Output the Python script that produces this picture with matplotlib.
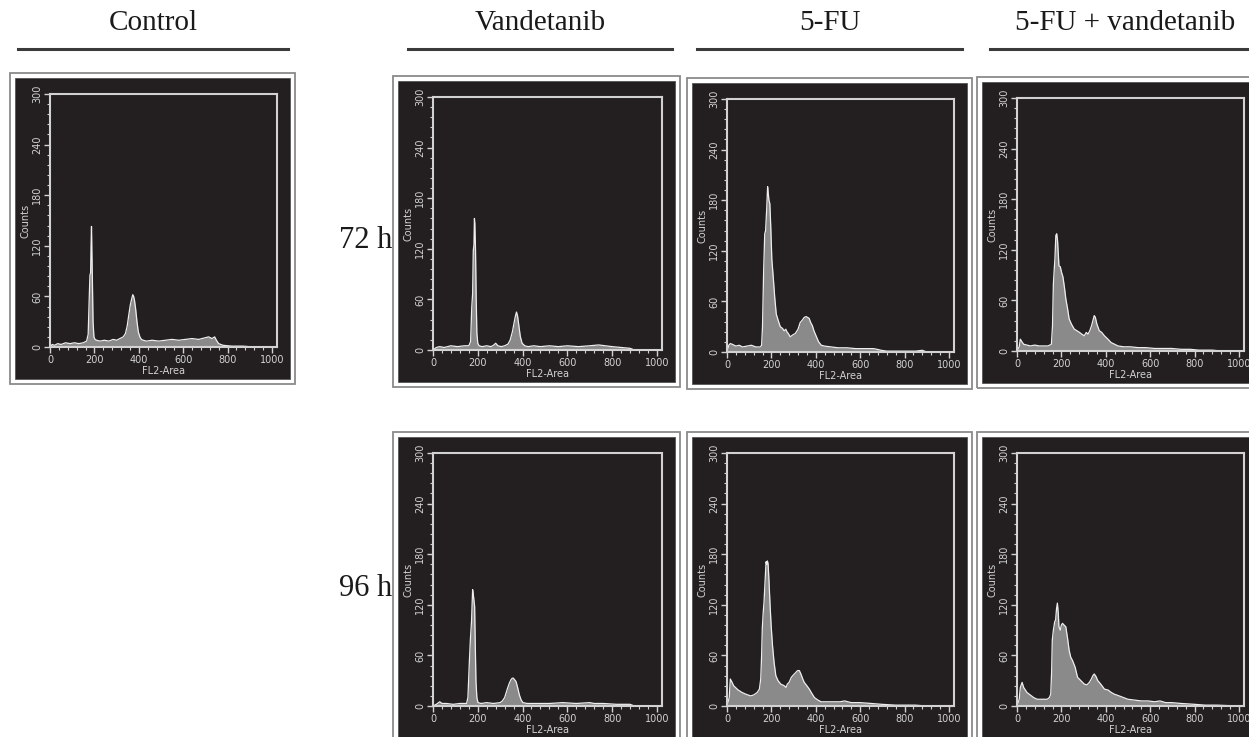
import matplotlib
matplotlib.use('Agg')
import matplotlib.pyplot as plt
from matplotlib.patches import Rectangle
from matplotlib.lines import Line2D
from matplotlib.ticker import MultipleLocator

W, H = 1249, 737

#==============================================================================
# DATA - FL2-Area channel vs counts
#==============================================================================

control_x = [0, 10, 20, 35, 50, 70, 90, 110, 130, 150, 165, 172, 177, 180, 183, 185, 187, 189, 191, 194,
             198, 203, 210, 225, 245, 265, 285, 300, 315, 330, 340, 348, 355, 362, 368, 373, 377, 381, 386, 392,
             398, 405, 412, 420, 435, 460, 490, 520, 550, 580, 610, 640, 670, 700, 715, 730, 742, 750, 760, 780,
             820, 870, 920, 1000]
control_y = [0, 3, 2, 4, 3, 5, 4, 5, 4, 5, 7, 15, 60, 85, 88, 120, 143, 110, 80, 30,
             12, 9, 8, 7, 8, 7, 9, 8, 10, 12, 16, 25, 38, 50, 57, 62, 60, 55, 45, 30,
             18, 12, 9, 8, 7, 8, 7, 8, 9, 8, 9, 10, 9, 11, 12, 10, 12, 8, 4, 2,
             1, 1, 0, 0]

vand72_x = [0, 15, 30, 50, 80, 110, 140, 160, 168, 173, 177, 180, 183, 185, 187, 190, 193, 196, 200, 206,
            220, 240, 260, 272, 280, 290, 305, 320, 335, 345, 355, 362, 368, 373, 378, 383, 390, 398, 410, 425,
            450, 480, 520, 560, 600, 650, 700, 740, 770, 800, 840, 880, 900, 1000]
vand72_y = [0, 3, 4, 3, 5, 4, 5, 5, 10, 50, 67, 118, 125, 156, 150, 118, 60, 20, 8, 5,
            4, 5, 4, 6, 8, 5, 4, 5, 7, 12, 22, 32, 40, 45, 40, 30, 16, 8, 5, 4,
            5, 4, 5, 4, 5, 4, 5, 6, 5, 4, 3, 2, 0, 0]

fu72_x = [0, 8, 15, 25, 40, 55, 70, 90, 110, 130, 150, 156, 160, 165, 170, 174, 179, 183, 186, 189,
          193, 197, 202, 208, 215, 222, 230, 240, 250, 258, 265, 270, 276, 285, 295, 308, 320, 330, 340, 348,
          356, 363, 370, 377, 385, 392, 400, 413, 425, 440, 470, 500, 540, 580, 620, 660, 680, 695, 720, 760,
          800, 850, 880, 900, 1000]
fu72_y = [0, 8, 10, 9, 7, 8, 6, 7, 8, 6, 6, 8, 30, 95, 140, 144, 170, 196, 188, 180,
          176, 150, 110, 90, 65, 45, 38, 30, 28, 25, 27, 24, 22, 18, 20, 22, 27, 35, 38, 41,
          42, 41, 40, 35, 31, 25, 20, 12, 8, 7, 6, 5, 5, 4, 4, 4, 3, 2, 1, 1,
          1, 1, 2, 0, 0]

combo72_x = [0, 10, 15, 22, 30, 45, 60, 80, 100, 120, 140, 155, 160, 164, 167, 171, 175, 179, 183, 189,
             195, 201, 207, 214, 220, 228, 235, 245, 258, 270, 282, 292, 303, 312, 320, 328, 336, 342, 348, 353,
             360, 371, 382, 394, 410, 424, 440, 455, 480, 510, 545, 580, 620, 660, 697, 740, 780, 820, 848, 880,
             920, 1000]
combo72_y = [0, 5, 14, 11, 8, 7, 6, 7, 6, 6, 6, 8, 30, 80, 93, 110, 137, 139, 130, 101,
             100, 93, 88, 75, 62, 50, 38, 32, 26, 24, 22, 20, 18, 22, 20, 24, 30, 36, 42, 40,
             32, 24, 22, 18, 14, 10, 8, 6, 5, 5, 4, 4, 3, 3, 3, 2, 2, 1, 1, 1,
             0, 0]

vand96_x = [0, 15, 30, 40, 60, 90, 120, 150, 156, 162, 167, 172, 177, 181, 186, 189, 192, 196, 201, 215,
            240, 270, 300, 310, 320, 333, 341, 348, 354, 359, 365, 371, 378, 386, 394, 402, 420, 460, 520, 580,
            640, 700, 720, 760, 820, 880, 900, 1000]
vand96_y = [0, 2, 5, 3, 3, 2, 3, 3, 10, 50, 79, 100, 138, 130, 118, 70, 29, 10, 4, 3,
            4, 3, 4, 6, 10, 21, 27, 31, 33, 33, 31, 29, 22, 13, 7, 4, 3, 3, 3, 4,
            3, 4, 3, 3, 2, 2, 0, 0]

fu96_x = [0, 10, 15, 23, 30, 38, 50, 68, 85, 106, 120, 136, 146, 152, 156, 159, 163, 167, 172, 176,
          179, 182, 185, 189, 194, 199, 205, 212, 220, 230, 242, 250, 258, 266, 272, 280, 290, 300, 311, 318,
          326, 333, 340, 348, 360, 371, 382, 394, 410, 424, 450, 480, 510, 530, 560, 600, 650, 697, 760, 848,
          900, 1000]
fu96_y = [0, 10, 32, 28, 24, 22, 19, 16, 14, 12, 13, 16, 20, 32, 60, 92, 110, 124, 150, 171,
          168, 172, 169, 150, 120, 95, 72, 52, 36, 30, 26, 25, 24, 22, 26, 28, 34, 37, 40, 42,
          42, 38, 33, 28, 24, 20, 15, 10, 7, 5, 5, 5, 5, 6, 4, 4, 3, 2, 1, 1,
          0, 0]

combo96_x = [0, 10, 15, 23, 30, 45, 60, 75, 91, 110, 136, 146, 152, 156, 159, 164, 170, 174, 178, 182,
             186, 189, 195, 200, 205, 212, 220, 228, 235, 242, 250, 262, 273, 288, 303, 315, 326, 335, 342, 348,
             356, 364, 371, 383, 394, 410, 425, 439, 460, 480, 500, 530, 560, 591, 620, 644, 670, 697, 740, 800,
             848, 900, 1000]
combo96_y = [0, 8, 22, 28, 22, 16, 13, 10, 8, 8, 8, 10, 14, 40, 78, 90, 100, 102, 115, 122,
             110, 94, 90, 96, 98, 96, 94, 80, 66, 58, 54, 46, 34, 30, 26, 25, 28, 32, 36, 38,
             35, 30, 28, 24, 20, 19, 16, 14, 12, 10, 8, 7, 6, 6, 5, 6, 4, 4, 3, 2,
             1, 1, 0]

col_titles = ['Control', 'Vandetanib', '5-FU', '5-FU + vandetanib']
row_labels = ['72 h', '96 h']

#==============================================================================
# LAYOUT (pixel coords of the outer frame of each panel)
#==============================================================================

BG = '#231f20'
FG = '#d2d2d2'

# (outer_left, outer_right, outer_top, x, y)
panels = [
    (10,  295, 73,  control_x, control_y),
    (393, 680, 76,  vand72_x,  vand72_y),
    (687, 972, 78,  fu72_x,    fu72_y),
    (977, 1262, 77, combo72_x, combo72_y),
    (393, 680, 432, vand96_x,  vand96_y),
    (687, 972, 432, fu96_x,    fu96_y),
    (977, 1262, 432, combo96_x, combo96_y),
]

fig = plt.figure(figsize=(W / 100, H / 100), dpi=100)
fig.patch.set_facecolor('white')


def rect_px(x0, y0, x1, y1, **kw):
    fig.add_artist(Rectangle((x0 / W, 1 - y1 / H), (x1 - x0) / W, (y1 - y0) / H,
                             transform=fig.transFigure, zorder=-5, **kw))


def hline_px(x0, x1, y, **kw):
    fig.add_artist(Line2D([x0 / W, x1 / W], [1 - y / H, 1 - y / H],
                          transform=fig.transFigure, **kw))


for ol, orr, ot, xs, ys in panels:
    ob = ot + 311
    rect_px(ol, ot, orr, ob, facecolor='none', edgecolor='#8a8a8a', linewidth=1.3)
    rect_px(ol + 5, ot + 5, orr - 5, ob - 5, facecolor=BG, edgecolor='#555555', linewidth=0.6)

    pl, pr = ol + 40, orr - 18
    pt = ot + 21
    pb = pt + 253
    ax = fig.add_axes([pl / W, 1 - pb / H, (pr - pl) / W, (pb - pt) / H])
    ax.set_facecolor(BG)
    ax.fill_between(xs, ys, 0, color='#8a8a8a', linewidth=0)
    ax.plot(xs, ys, color='#eeeeee', linewidth=0.9)
    ax.set_xlim(0, 1023)
    ax.set_ylim(0, 300)
    ax.xaxis.set_major_locator(MultipleLocator(200))
    ax.xaxis.set_minor_locator(MultipleLocator(40))
    ax.yaxis.set_major_locator(MultipleLocator(60))
    ax.yaxis.set_minor_locator(MultipleLocator(12))
    for sp in ax.spines.values():
        sp.set_color(FG)
        sp.set_linewidth(1.5)
    ax.tick_params(which='major', colors=FG, direction='out', length=4, width=1,
                   labelsize=7, pad=1.5)
    ax.tick_params(which='minor', colors=FG, direction='out', length=2.5, width=0.8)
    for lab in ax.get_yticklabels():
        lab.set_rotation(90)
        lab.set_va('center')
    ax.set_ylabel('Counts', fontsize=7, color=FG, labelpad=1)
    ax.set_xlabel('FL2-Area', fontsize=7, color=FG, labelpad=1)

#==============================================================================
# COLUMN TITLES AND ROW LABELS
#==============================================================================

title_spans = [(18, 288), (408, 672), (697, 962), (990, 1260)]
for (x0, x1), name in zip(title_spans, col_titles):
    fig.text((x0 + x1) / 2 / W, 1 - 23 / H, name, family='Liberation Serif',
             fontsize=21, ha='center', va='center', color='#1a1a1a')
    hline_px(x0, x1, 49, color='#3a3a3a', linewidth=2.2)

for y, lab in zip([240, 588], row_labels):
    fig.text(392 / W, 1 - y / H, lab, family='Liberation Serif', fontsize=22,
             ha='right', va='center', color='#1a1a1a')

plt.savefig('out.png', dpi=100, facecolor='white')
